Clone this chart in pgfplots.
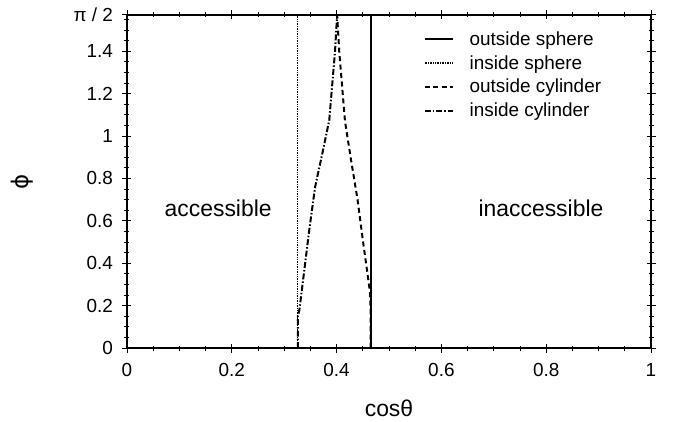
\documentclass[border=0pt]{standalone}
\usepackage{fontspec}
\setmainfont{Liberation Sans}
\newfontfamily\dejavu{DejaVu Sans}
\usepackage{pgfplots}
\pgfplotsset{compat=1.18}

\begin{document}
\begin{tikzpicture}
\begin{axis}[
    at={(0,0)}, anchor=south west,
    scale only axis,
    width=524bp, height=333bp,
    xmin=0, xmax=1, ymin=0, ymax=1.5708,
    xtick={0,0.2,0.4,0.6,0.8,1},
    xticklabels={0,0.2,0.4,0.6,0.8,1},
    minor xtick={0.05,0.1,0.15,0.25,0.3,0.35,0.45,0.5,0.55,0.65,0.7,0.75,0.85,0.9,0.95},
    ytick={0,0.2,0.4,0.6,0.8,1,1.2,1.4,1.5708},
    yticklabels={0,0.2,0.4,0.6,0.8,1,1.2,1.4,{π / 2}},
    minor ytick={0.05,0.1,0.15,0.25,0.3,0.35,0.45,0.5,0.55,0.65,0.7,0.75,0.85,0.9,0.95,1.05,1.1,1.15,1.25,1.3,1.35,1.45,1.5,1.55},
    tick align=center,
    major tick length=9bp, minor tick length=5bp,
    tick style={black, line width=1pt},
    axis line style={line width=1.5pt},
    /pgf/number format/assume math mode=true,
    ticklabel style={font=\fontsize{19}{22}\selectfont},
    xticklabel style={yshift=-7bp},
    yticklabel style={xshift=-6bp},
    xlabel={cosθ}, ylabel={{\dejavu ϕ}},
    xlabel style={font=\fontsize{23}{26}\selectfont, at={(axis description cs:0.5,-0.18)}, anchor=center},
    ylabel style={font=\fontsize{23}{26}\selectfont, at={(axis description cs:-0.20,0.5)}, anchor=center},
    legend style={draw=none, fill=none, at={(rel axis cs:0.56,0.962)}, anchor=north west,
        font=\fontsize{19}{22}\selectfont, row sep=4.5bp,
        /tikz/every odd column/.append style={column sep=14bp}},
    legend cell align=left,
    legend image code/.code={\draw[#1] (0bp,0bp) -- (28bp,0bp);},
]

% outside sphere
\addplot[black, line width=2pt] coordinates {(0.465,0) (0.465,1.5708)};
\addlegendentry{outside sphere}

% inside sphere
\addplot[black, line width=1.6pt, dash pattern=on 0.8bp off 0.9bp] coordinates {(0.325,0) (0.325,1.5708)};
\addlegendentry{inside sphere}

% outside cylinder
\addplot[black, line width=2pt, dash pattern=on 5bp off 3.5bp] coordinates {
    (0.465,0) (0.465,0.15) (0.464,0.26) (0.450,0.51) (0.440,0.70)
    (0.428,0.88) (0.416,1.07) (0.405,1.40) (0.401,1.5708)
};
\addlegendentry{outside cylinder}

% inside cylinder
\addplot[black, line width=2pt, dash pattern=on 6bp off 2bp on 1.5bp off 2bp] coordinates {
    (0.326,0) (0.326,0.15) (0.329,0.18) (0.348,0.56) (0.359,0.76)
    (0.373,0.92) (0.386,1.075) (0.397,1.40) (0.401,1.5708)
};
\addlegendentry{inside cylinder}

\node[font=\fontsize{23}{26}\selectfont] at (axis cs:0.174,0.66) {accessible};
\node[font=\fontsize{23}{26}\selectfont] at (axis cs:0.790,0.66) {inaccessible};
\end{axis}
\pgfresetboundingbox
\path (-127bp,-74bp) rectangle (546bp,348bp);
\end{tikzpicture}
\end{document}
